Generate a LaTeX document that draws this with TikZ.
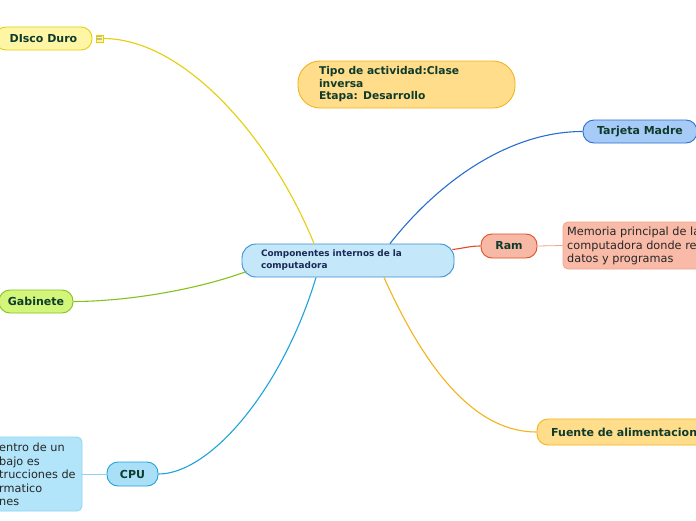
\documentclass[tikz,border=0pt]{standalone}
\usepackage{fontspec}
\setmainfont{DejaVu Sans}
\definecolor{lbltxt}{HTML}{0E3B2C}
\definecolor{cenfill}{HTML}{C4E8FA}\definecolor{cendraw}{HTML}{3B8FD2}\definecolor{centxt}{HTML}{1B2A55}
\definecolor{ylfill}{HTML}{FFF6A5}\definecolor{yldraw}{HTML}{E5CF0A}
\definecolor{orfill}{HTML}{FFDD8B}\definecolor{ordraw}{HTML}{F2B51C}
\definecolor{bufill}{HTML}{A7CBF7}\definecolor{budraw}{HTML}{2B6ED1}
\definecolor{rdfill}{HTML}{F7B9A5}\definecolor{rddraw}{HTML}{E24C24}
\definecolor{mefill}{HTML}{F9BBA8}\definecolor{medraw}{HTML}{F0A48C}
\definecolor{grfill}{HTML}{D2F57A}\definecolor{grdraw}{HTML}{86C21E}
\definecolor{cpfill}{HTML}{A9E0F8}\definecolor{cpdraw}{HTML}{1FA3DA}
\definecolor{dsfill}{HTML}{B2E5FA}\definecolor{dsdraw}{HTML}{8ED2F2}
\tikzset{
  pill/.style={draw, line width=0.9pt, rounded corners=11pt, inner sep=0pt,
    font=\fontsize{11}{13}\selectfont\bfseries, text=lbltxt},
  descbox/.style={draw, line width=0.8pt, rounded corners=5pt, inner sep=0pt},
  desctext/.style={font=\fontsize{11.3}{13.6}\selectfont, text=black!85, align=left, inner sep=0pt},
  branch/.style={line width=1.1pt},
  thin/.style={line width=0.8pt}
}
\begin{document}
\begin{tikzpicture}[x=1pt,y=-1pt]
\useasboundingbox (0,0) rectangle (696,520);
\clip (0,0) rectangle (696,520);
\fill[white] (0,0) rectangle (696,520);
% central
\node[draw=cendraw, fill=cenfill, line width=0.9pt, rounded corners=14pt,
  minimum width=212pt, minimum height=33pt, text width=174pt, inner xsep=19pt, inner ysep=0pt,
  align=left, font=\fontsize{8.9}{12}\selectfont\bfseries, text=centxt] (central) at (348,260.5)
  {\raisebox{-1.5pt}{\parbox{174pt}{Componentes internos de la\\computadora}}};
% tipo
\node[draw=ordraw, fill=orfill, line width=0.9pt, rounded corners=22pt,
  minimum width=217pt, minimum height=47pt, text width=175pt, inner xsep=21pt, inner ysep=0pt,
  align=left, font=\fontsize{10.7}{12.5}\selectfont\bfseries, text=lbltxt] (tipo) at (406.5,84.5)
  {\raisebox{-2pt}{\parbox{175pt}{Tipo de actividad:Clase\\inversa\\Etapa: Desarrollo}}};
% branches
\node[pill, draw=yldraw, fill=ylfill, minimum width=97pt, minimum height=23pt] (disco) at (43.5,38.5) {DIsco Duro};
\node[draw=yldraw, fill=ylfill, line width=0.5pt, inner sep=0pt, minimum width=6.5pt, minimum height=7pt,
  font=\fontsize{7}{7}\selectfont, text=black!70] (note) at (99.5,38.5) {$\equiv$};
\node[pill, draw=budraw, fill=bufill, minimum width=114pt, minimum height=23pt] (tarjeta) at (640,131.5) {Tarjeta Madre};
\node[pill, draw=rddraw, fill=rdfill, minimum width=56pt, minimum height=24pt] (ram) at (509,246) {Ram};
\node[descbox, draw=medraw, fill=mefill, minimum width=180pt, minimum height=47pt] (memoria) at (653,245.5) {};
\node[desctext, anchor=west] (memtext) at (567,246) {Memoria principal de la\\computadora donde residen los\\datos y programas};
\node[pill, draw=ordraw, fill=orfill, minimum width=190pt, minimum height=26pt] (fuente) at (632,432) {};
\node[anchor=west, inner sep=0pt, font=\fontsize{11}{13}\selectfont\bfseries, text=lbltxt] (fuentetext) at (551,432.5) {Fuente de alimentacion};
\node[pill, draw=grdraw, fill=grfill, minimum width=74pt, minimum height=23pt] (gabinete) at (36,301.5) {Gabinete};
\node[pill, draw=cpdraw, fill=cpfill, minimum width=51pt, minimum height=24pt] (cpu) at (132.5,474) {CPU};
\node[descbox, draw=dsdraw, fill=dsfill, minimum width=120pt, minimum height=74pt] (cpudesc) at (22,474) {};
\node[desctext, anchor=west] (cputext) at (-1,474.5) {entro de un\\bajo es\\trucciones de\\rmatico\\nes};
% connectors
\draw[branch, yldraw] ([xshift=-34pt]central.north) .. controls (272,140) and (185,38.5) .. (note.east);
\draw[branch, grdraw] ([xshift=5pt,yshift=-11pt]central.west) .. controls (190,292) and (120,301.5) .. (gabinete.east);
\draw[branch, cpdraw] ([xshift=-32pt]central.south) .. controls (282,390) and (210,474) .. (cpu.east);
\draw[branch, budraw] ([xshift=42pt]central.north) .. controls (440,180) and (510,131.5) .. (tarjeta.west);
\draw[branch, ordraw] ([xshift=36pt]central.south) .. controls (430,380) and (480,432) .. (fuente.west);
\draw[branch, rddraw] ([xshift=-2pt,yshift=11pt]central.east) .. controls (465,248) and (470,246) .. (ram.west);
\draw[thin, medraw] (ram.east) -- (memoria.west);
\draw[thin, dsdraw] (cpudesc.east) -- (cpu.west);
\end{tikzpicture}
\end{document}
